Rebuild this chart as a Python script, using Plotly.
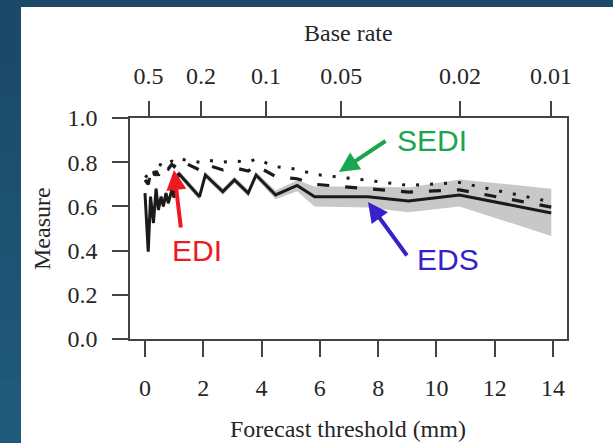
import plotly.graph_objects as go

# Forecast thresholds (mm) at which the scores were evaluated
threshold = [0.0, 0.11, 0.19, 0.29, 0.38, 0.46, 0.55, 0.63, 0.72, 0.80, 0.92, 1.0,
             1.15, 1.87, 2.07, 2.67, 3.07, 3.54, 3.81, 4.48, 5.22, 5.82, 7.64,
             9.04, 10.79, 13.94]

eds = [0.66, 0.395, 0.644, 0.525, 0.68, 0.584, 0.644, 0.60, 0.66, 0.615, 0.674, 0.64,
       0.75, 0.644, 0.742, 0.667, 0.72, 0.66, 0.742, 0.652, 0.695, 0.644, 0.644,
       0.625, 0.652, 0.57]

eds_low = [0.648, 0.383, 0.632, 0.513, 0.668, 0.572, 0.632, 0.588, 0.648, 0.603, 0.662, 0.628,
           0.735, 0.629, 0.727, 0.652, 0.705, 0.645, 0.727, 0.632, 0.668, 0.600, 0.595,
           0.573, 0.600, 0.466]

eds_high = [0.672, 0.407, 0.656, 0.537, 0.692, 0.596, 0.656, 0.612, 0.672, 0.627, 0.686, 0.652,
            0.765, 0.659, 0.757, 0.682, 0.735, 0.675, 0.757, 0.672, 0.718, 0.690, 0.690,
            0.685, 0.722, 0.680]

edi = [0.72, 0.70, 0.75, 0.72, 0.76, 0.74, 0.77, 0.76, 0.78, 0.77, 0.79, 0.78,
       0.81, 0.765, 0.79, 0.765, 0.775, 0.76, 0.785, 0.735, 0.725, 0.70, 0.68,
       0.665, 0.675, 0.597]

sedi = [0.74, 0.73, 0.76, 0.75, 0.78, 0.77, 0.795, 0.79, 0.80, 0.795, 0.805, 0.80,
        0.815, 0.80, 0.81, 0.80, 0.805, 0.80, 0.815, 0.78, 0.768, 0.745, 0.718,
        0.695, 0.708, 0.62]

# Base rate corresponding to selected thresholds (top axis)
base_rate_labels = ["0.5", "0.2", "0.1", "0.05", "0.02", "0.01"]
base_rate_threshold = [0.12, 1.92, 4.15, 6.73, 10.81, 13.93]

x_ticks = [0, 2, 4, 6, 8, 10, 12, 14]
y_ticks = [0.0, 0.2, 0.4, 0.6, 0.8, 1.0]

W, H = 613, 443
L, R, T, B = 130, 46, 118, 104
PW, PH = W - L - R, H - T - B


def px_x(p):
    return (p - L) / PW


def px_y(p):
    return (H - B - p) / PH


serif = "Liberation Serif, Times New Roman, serif"
sans = "Liberation Sans, Arial, sans-serif"
axis_col = "#444444"
text_col = "#262626"
ink = "#1a1a1a"

fig = go.Figure()

# Uncertainty band around EDS
fig.add_trace(go.Scatter(x=threshold, y=eds_low, mode="lines",
                         line=dict(width=0, color="#c8c8c8"),
                         showlegend=False, hoverinfo="skip"))
fig.add_trace(go.Scatter(x=threshold, y=eds_high, mode="lines",
                         line=dict(width=0, color="#c8c8c8"),
                         fill="tonexty", fillcolor="#c8c8c8",
                         showlegend=False, hoverinfo="skip"))

# SEDI is drawn against the top (base rate) axis, which shares the threshold range
fig.add_trace(go.Scatter(x=threshold, y=sedi, mode="lines", name="SEDI",
                         xaxis="x2", yaxis="y",
                         line=dict(color=ink, width=3, dash="3px,11px"),
                         showlegend=False))
fig.add_trace(go.Scatter(x=threshold, y=edi, mode="lines", name="EDI",
                         line=dict(color=ink, width=3.2, dash="12px,16px"),
                         showlegend=False))
fig.add_trace(go.Scatter(x=threshold, y=eds, mode="lines", name="EDS",
                         line=dict(color=ink, width=3),
                         showlegend=False))

# Background: dark blue page with a white panel
shapes = []
n_bands = 14
c_top = (27, 73, 103)
c_bot = (32, 90, 122)
for i in range(n_bands):
    f = i / (n_bands - 1)
    c = tuple(int(round(c_top[k] + (c_bot[k] - c_top[k]) * f)) for k in range(3))
    y0 = i * H / n_bands
    y1 = (i + 1) * H / n_bands + 1
    shapes.append(dict(type="rect", xref="paper", yref="paper", layer="below",
                       x0=px_x(0), x1=px_x(W), y0=px_y(y1), y1=px_y(y0),
                       line=dict(width=0), fillcolor="rgb(%d,%d,%d)" % c))
shapes.append(dict(type="rect", xref="paper", yref="paper", layer="below",
                   x0=px_x(21), x1=px_x(W + 2), y0=px_y(H + 2), y1=px_y(7),
                   line=dict(width=0), fillcolor="white"))

annotations = [
    dict(text="Base rate", xref="paper", yref="paper", x=px_x(348), y=px_y(33),
         showarrow=False, font=dict(family=serif, size=24, color=text_col),
         xanchor="center", yanchor="middle"),
    dict(text="Forecast threshold (mm)", xref="paper", yref="paper",
         x=px_x(348), y=px_y(429), showarrow=False,
         font=dict(family=serif, size=24, color=text_col),
         xanchor="center", yanchor="middle"),
    dict(text="Measure", xref="paper", yref="paper", x=px_x(42), y=px_y(229),
         textangle=-90, showarrow=False,
         font=dict(family=serif, size=24, color=text_col),
         xanchor="center", yanchor="middle"),
    # Labels and arrows pointing at each score
    dict(text="SEDI", xref="x", yref="y", x=(432 - 145) / 29.143, y=(339 - 140) / 221,
         showarrow=False, font=dict(family=sans, size=30, color="#1aa64e"),
         xanchor="center", yanchor="middle"),
    dict(text="", xref="x", yref="y", x=(339 - 145) / 29.143, y=(339 - 172) / 221,
         ax=48, ay=-32, showarrow=True, arrowhead=2, arrowsize=1,
         arrowwidth=4, arrowcolor="#1aa64e"),
    dict(text="EDI", xref="x", yref="y", x=(197 - 145) / 29.143, y=(339 - 250) / 221,
         showarrow=False, font=dict(family=sans, size=30, color="#ee1a22"),
         xanchor="center", yanchor="middle"),
    dict(text="", xref="x", yref="y", x=(174 - 145) / 29.143, y=(339 - 170) / 221,
         ax=7, ay=59, showarrow=True, arrowhead=2, arrowsize=1,
         arrowwidth=4, arrowcolor="#ee1a22"),
    dict(text="EDS", xref="x", yref="y", x=(448 - 145) / 29.143, y=(339 - 259) / 221,
         showarrow=False, font=dict(family=sans, size=30, color="#3522c8"),
         xanchor="center", yanchor="middle"),
    dict(text="", xref="x", yref="y", x=(368 - 145) / 29.143, y=(339 - 202) / 221,
         ax=40, ay=55, showarrow=True, arrowhead=2, arrowsize=1,
         arrowwidth=4, arrowcolor="#3522c8"),
]

tick_font = dict(family=serif, size=24, color=text_col)
x_range = [-15 / 29.143, 14 + 14 / 29.143]

fig.update_layout(
    width=W, height=H,
    margin=dict(l=L, r=R, t=T, b=B, pad=0),
    paper_bgcolor="rgb(30,80,112)",
    plot_bgcolor="white",
    shapes=shapes,
    annotations=annotations,
    showlegend=False,
    xaxis=dict(range=x_range, tickvals=x_ticks, ticks="outside", ticklen=16,
               tickwidth=1.6, tickcolor=axis_col, showline=True, mirror=True,
               linecolor=axis_col, linewidth=1.6, showgrid=False, zeroline=False,
               tickfont=tick_font, ticklabelstandoff=10),
    xaxis2=dict(range=x_range, overlaying="x", side="top", anchor="y",
                tickvals=base_rate_threshold, ticktext=base_rate_labels,
                ticks="outside", ticklen=16, tickwidth=1.6, tickcolor=axis_col,
                showline=False, showgrid=False, zeroline=False,
                tickfont=tick_font, ticklabelstandoff=7),
    yaxis=dict(range=[0, 1], tickvals=y_ticks, tickformat=".1f", ticks="outside",
               ticklen=16, tickwidth=1.6, tickcolor=axis_col, showline=True,
               mirror=True, linecolor=axis_col, linewidth=1.6, showgrid=False,
               zeroline=False, tickfont=tick_font, ticklabelstandoff=10),
)

fig.write_html("out.html")
